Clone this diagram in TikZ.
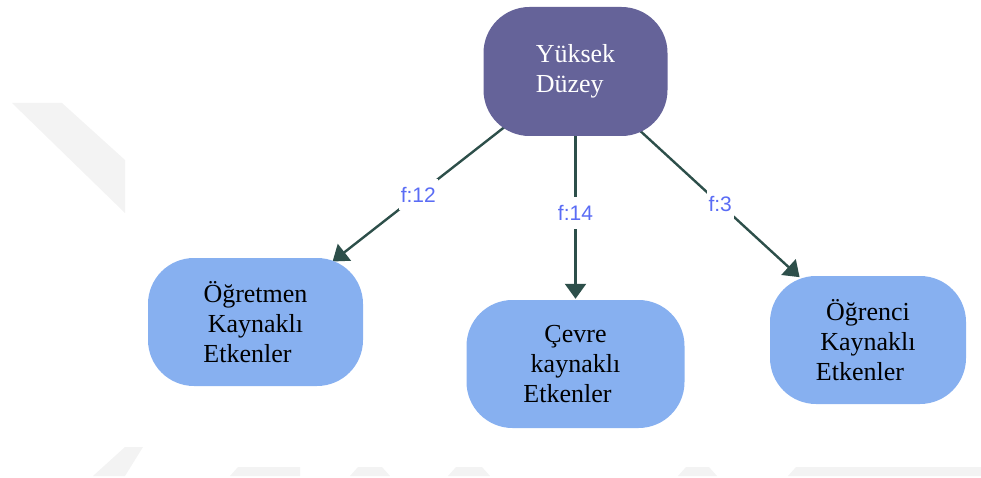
\documentclass[tikz,border=0pt]{standalone}
\usepackage{fontspec}
\setmainfont{Liberation Serif}
\newfontfamily\labelfont{Liberation Sans}
\usetikzlibrary{arrows.meta,backgrounds}

\definecolor{topfill}{RGB}{101,99,153}
\definecolor{leaffill}{RGB}{135,176,240}
\definecolor{linkcol}{RGB}{45,79,74}
\definecolor{freqcol}{RGB}{90,108,245}
\definecolor{wmgray}{RGB}{243,243,243}

\tikzset{
  box/.style={rounded corners=46pt, inner sep=0pt,
    font=\fontsize{26}{30}\selectfont},
  topbox/.style={box, fill=topfill, text=white, align=left,
    minimum width=184pt, minimum height=129pt},
  leafbox/.style={box, fill=leaffill, text=black, align=center,
    minimum height=128pt},
  conn/.style={draw=linkcol, line width=2.4pt,
    -{Triangle[length=15pt,width=21pt]}},
  freq/.style={font=\labelfont\fontsize{21}{24}\selectfont, text=freqcol,
    fill=white, inner xsep=2pt, inner ysep=8pt},
  band/.style={fill=wmgray, draw=none},
}

\begin{document}
\begin{tikzpicture}[x=1pt, y=-1pt]
  \useasboundingbox (0,0) rectangle (981,478);

  % nodes
  \node[topbox] (top) at (575.5,71.5) {Yüksek\\Düzey};
  \node[leafbox, minimum width=215pt] (teacher) at (255.5,322)
    {Öğretmen\\Kaynaklı\\Etkenler\hspace*{16pt}};
  \node[leafbox, minimum width=218pt] (env) at (575.5,364)
    {Çevre\\kaynaklı\\Etkenler\hspace*{16pt}};
  \node[leafbox, minimum width=196pt] (student) at (868,340)
    {Öğrenci\\Kaynaklı\\Etkenler\hspace*{16pt}};

  \begin{scope}[on background layer]
    % faint background marks
    \fill[band] (12,103) -- (62,103) -- (125,160) -- (125,213) -- cycle;
    \fill[band] (93,476) -- (125,447) -- (143,447) -- (125,476) -- cycle;
    \fill[band] (230,476) -- (238,467) -- (300,467) -- (300,476) -- cycle;
    \fill[band] (350,476) -- (358,467) -- (382,467) -- (390,476) -- cycle;
    \fill[band] (448,476) -- (456,467) -- (482,467) -- (490,476) -- cycle;
    \fill[band] (678,476) -- (686,467) -- (709,467) -- (717,476) -- cycle;
    \fill[band] (788,476) -- (796,467) -- (981,467) -- (981,476) -- cycle;

    % connectors with frequency labels
    \draw[conn, shorten >=-6pt] (top.center) -- (teacher)
      node[freq, pos=0.66] (f12) {f:12};
    \draw[conn, shorten >=1pt] (top.center) -- (env)
      node[freq, pos=0.62] (f14) {f:14};
    \draw[conn, shorten >=-2pt] (top.center) -- (student)
      node[freq, pos=0.65] (f3) {f:3};
  \end{scope}
\end{tikzpicture}
\end{document}
